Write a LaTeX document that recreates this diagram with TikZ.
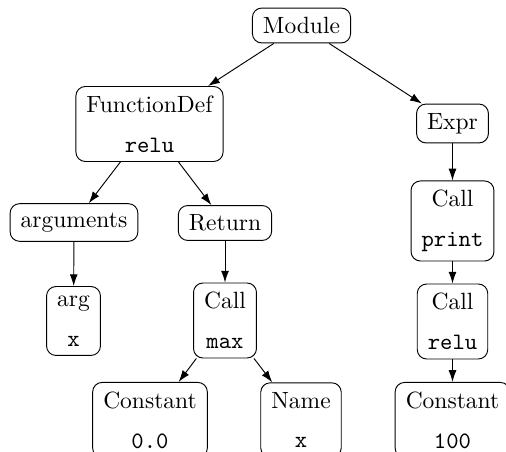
\documentclass[tikz,border=0pt]{standalone}
\usetikzlibrary{arrows.meta}
\begin{document}
\begin{tikzpicture}[x=0.42553pt,y=-0.42553pt,
  box/.style={draw, rounded corners=4pt, inner xsep=4.5pt, inner ysep=3.9pt, align=center},
  conn/.style={-{Latex[length=5pt,width=3.4pt]}}]
\useasboundingbox (0,0) rectangle (506,452);
\clip (0,0) rectangle (506,452);
\node[box] (module) at (301.5,25.5) {Module};
\node[box] (funcdef) at (149.5,124) {FunctionDef\\[5pt]\texttt{relu}};
\node[box] (expr) at (452.5,123.5) {Expr};
\node[box] (arguments) at (74,222.5) {arguments};
\node[box] (return) at (225,223) {Return};
\node[box] (arg) at (73.5,321) {arg\\[5pt]\texttt{x}};
\node[box] (callmax) at (225,320.5) {Call\\[5pt]\texttt{max}};
\node[box] (callprint) at (452.5,221) {Call\\[5pt]\texttt{print}};
\node[box] (callrelu) at (452.5,321.5) {Call\\[5pt]\texttt{relu}};
\node[box] (const0) at (150,420) {Constant\\[5pt]\texttt{0.0}};
\node[box] (name) at (301,420) {Name\\[5pt]\texttt{x}};
\node[box] (const100) at (452.5,420) {Constant\\[5pt]\texttt{100}};
\draw[conn] (module) -- (funcdef);
\draw[conn] (module) -- (expr);
\draw[conn] (funcdef) -- (arguments);
\draw[conn] (funcdef) -- (return);
\draw[conn] (arguments) -- (arg);
\draw[conn] (return) -- (callmax);
\draw[conn] (callmax) -- (const0);
\draw[conn] (callmax) -- (name);
\draw[conn] (expr) -- (callprint);
\draw[conn] (callprint) -- (callrelu);
\draw[conn] (callrelu) -- (const100);
\end{tikzpicture}
\end{document}
